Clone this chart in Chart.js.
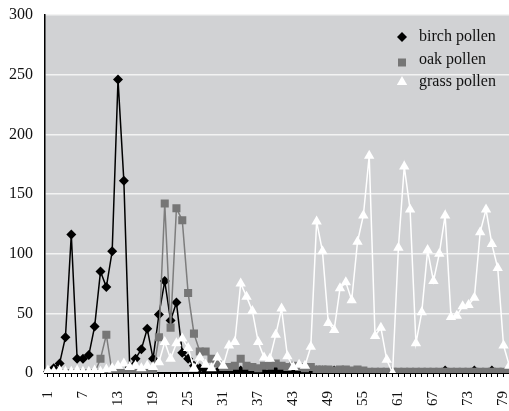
<!DOCTYPE html>
<html>
<head>
<meta charset="utf-8">
<script src="https://cdn.jsdelivr.net/npm/chart.js@4.4.1/dist/chart.umd.min.js"></script>
<style>
  html, body { margin: 0; padding: 0; background: #fff; overflow: hidden; }
  #wrap { width: 530px; height: 411px; }
</style>
</head>
<body>
<div id="wrap"><canvas id="pollenChart" width="530" height="411"></canvas></div>
<script>
// day numbers along the x axis
const days = Array.from({ length: 82 }, (_, i) => String(i + 1));

// daily pollen counts
const birch = [
  1, 4, 8, 30, 116, 12, 12, 15, 39, 85,
  72, 102, 246, 161, 5, 12, 20, 37, 12, 49,
  77, 44, 59, 17, 12, 6, 4, 2, 2, 1,
  1, 1, 1, 2, 1, 1, 0, 1, 1, 2,
  1, 0, 0, 1, 0, 0, 2, 2, 0, 2,
  0, 0, 0, 0, 0, 0, 0, 0, 0, 0,
  0, 0, 0, 0, 0, 0, 0, 0, 2, 0,
  0, 0, 0, 2, 0, 0, 2, 0, 0, 0,
  0, 0
];
const oak = [
  0, 0, 0, 0, 0, 0, 0, 0, 0, 12,
  32, 0, 0, 0, 0, 0, 0, 0, 0, 30,
  142, 38, 138, 128, 67, 33, 18, 18, 12, 8,
  5, 5, 6, 12, 6, 5, 4, 6, 6, 8,
  6, 5, 6, 5, 4, 5, 3, 3, 3, 2,
  3, 3, 2, 3, 2, 1, 1, 1, 1, 1,
  1, 1, 1, 1, 1, 1, 1, 1, 1, 1,
  1, 1, 1, 1, 1, 1, 1, 1, 1, 1,
  1, 1
];
const grass = [
  2, 1, 2, 1, 1, 2, 1, 1, 2, 1,
  3, 4, 6, 8, 5, 6, 4, 6, 5, 9,
  26, 12, 25, 29, 21, 4, 13, 7, 4, 13,
  6, 23, 26, 75, 64, 52, 26, 13, 12, 32,
  54, 14, 5, 7, 6, 22, 127, 102, 42, 36,
  71, 76, 61, 110, 132, 182, 31, 38, 11, 0,
  105, 173, 137, 25, 51, 103, 77, 100, 132, 47,
  48, 56, 57, 63, 118, 137, 108, 88, 23, 6,
  32, 20
];

const yTicks = [0, 50, 100, 150, 200, 250, 300];
const seriesNames = ['birch pollen', 'oak pollen', 'grass pollen'];

const serif = '"Liberation Serif", "Times New Roman", serif';

// grey fill behind the plot
const plotBackground = {
  id: 'plotBackground',
  beforeDraw(chart) {
    const { ctx, chartArea: a } = chart;
    ctx.save();
    ctx.fillStyle = '#d1d2d4';
    ctx.fillRect(a.left, a.top, a.right - a.left, a.bottom - a.top);
    ctx.restore();
  }
};

function drawMarker(ctx, style, x, y) {
  ctx.beginPath();
  if (style === 'rectRot') {
    ctx.moveTo(x, y - 5); ctx.lineTo(x + 5, y); ctx.lineTo(x, y + 5); ctx.lineTo(x - 5, y);
  } else if (style === 'rect') {
    ctx.rect(x - 4, y - 4, 8, 8);
  } else {
    ctx.moveTo(x, y - 6); ctx.lineTo(x + 5.2, y + 3); ctx.lineTo(x - 5.2, y + 3);
  }
  ctx.closePath();
  ctx.fill();
}

// legend sitting inside the plot, top right
const innerLegend = {
  id: 'innerLegend',
  afterDraw(chart) {
    const { ctx, chartArea: a } = chart;
    const mx = a.left + 357;
    ctx.save();
    ctx.font = '16px ' + serif;
    ctx.textBaseline = 'middle';
    chart.data.datasets.forEach((ds, i) => {
      const y = a.top + 22 + i * 22.5;
      ctx.fillStyle = ds.pointBackgroundColor;
      drawMarker(ctx, ds.pointStyle, mx, y + (i === 1 ? 3 : 0));
      ctx.fillStyle = '#111';
      ctx.fillText(ds.label, mx + 17, y);
    });
    ctx.restore();
  }
};

const ctx = document.getElementById('pollenChart').getContext('2d');
new Chart(ctx, {
  type: 'line',
  data: {
    labels: days,
    datasets: [
      {
        label: seriesNames[0],
        data: birch,
        order: 2,
        borderColor: '#000',
        borderWidth: 1.5,
        pointStyle: 'rectRot',
        pointRadius: 5,
        pointBackgroundColor: '#000',
        pointBorderColor: '#000',
        pointBorderWidth: 0
      },
      {
        label: seriesNames[1],
        data: oak,
        order: 1,
        borderColor: '#7d7d7d',
        borderWidth: 1.5,
        pointStyle: 'rect',
        pointRadius: 5.7,
        pointBackgroundColor: '#767676',
        pointBorderColor: '#767676',
        pointBorderWidth: 0
      },
      {
        label: seriesNames[2],
        data: grass,
        order: 0,
        borderColor: '#fff',
        borderWidth: 1.5,
        pointStyle: 'triangle',
        pointRadius: 6,
        pointBackgroundColor: '#fff',
        pointBorderColor: '#fff',
        pointBorderWidth: 0
      }
    ]
  },
  options: {
    responsive: false,
    animation: false,
    events: [],
    layout: { padding: { top: 15, left: 0, right: 0, bottom: 0 } },
    elements: { line: { tension: 0 } },
    plugins: {
      legend: { display: false },
      tooltip: { enabled: false }
    },
    scales: {
      x: {
        offset: true,
        grid: {
          display: true,
          drawOnChartArea: false,
          drawTicks: true,
          tickLength: 4,
          color: '#000',
          lineWidth: 1
        },
        border: { display: true, color: '#000', width: 2 },
        ticks: {
          autoSkip: false,
          minRotation: 90,
          maxRotation: 90,
          padding: 14,
          color: '#111',
          font: { family: serif, size: 15 },
          callback: (v, i) => (i % 6 === 0 ? days[i] : '')
        },
        afterFit(scale) {
          scale.height = 38;
          scale.paddingLeft = 0;
          scale.paddingRight = 0;
        }
      },
      y: {
        min: 0,
        max: 300,
        afterBuildTicks(scale) {
          scale.ticks = yTicks.map(v => ({ value: v }));
        },
        grid: {
          color: '#f3f3f3',
          lineWidth: 1.5,
          drawTicks: false
        },
        border: { display: true, color: '#000', width: 1.5 },
        ticks: {
          padding: 12,
          color: '#111',
          font: { family: serif, size: 16 }
        },
        afterFit(scale) {
          scale.width = 45;
          scale.paddingTop = 0;
          scale.paddingBottom = 0;
        }
      }
    }
  },
  plugins: [plotBackground, innerLegend]
});
</script>
</body>
</html>
